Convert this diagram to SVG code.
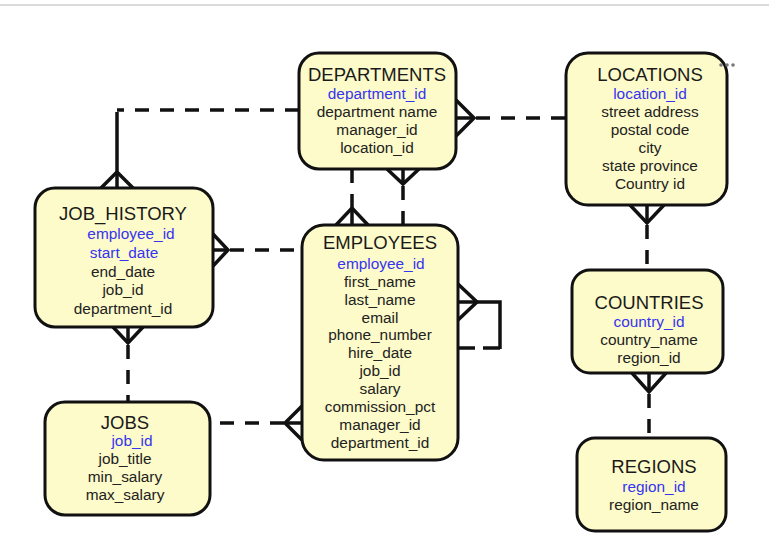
<svg xmlns="http://www.w3.org/2000/svg" width="769" height="554" viewBox="0 0 769 554">
<style>
  .box { fill: #fdfbc9; stroke: #111; stroke-width: 3; }
  .title { font-family: "Liberation Sans", Arial, sans-serif; font-size: 18.5px; fill: #1a1a1a; text-anchor: middle; }
  .attr { font-family: "Liberation Sans", Arial, sans-serif; font-size: 15.4px; fill: #222; text-anchor: middle; }
  .key { fill: #3434f2; }
  .solid { fill: none; stroke: #111; stroke-width: 3.5; }
  .dash { fill: none; stroke: #111; stroke-width: 3.5; stroke-dasharray: 14 11; }
</style>
<rect width="769" height="554" fill="#ffffff"/>
<line x1="0" y1="5" x2="769" y2="5" stroke="#cfcfcf" stroke-width="1.5"/>

<g id="connectors">
  <!-- DEPARTMENTS - JOB_HISTORY -->
  <path class="dash" d="M299,110 H117"/>
  <path class="solid" d="M117,112 V188"/>
  <path class="solid" d="M101,188 L117,172 L133,188"/>
  <!-- DEPARTMENTS - LOCATIONS -->
  <path class="solid" d="M456,118 H474"/>
  <path class="solid" d="M456,100 L474,118 L456,136"/>
  <path class="dash" d="M476,118 H566"/>
  <!-- DEPARTMENTS - EMPLOYEES (left) -->
  <path class="dash" d="M352,169 V208"/>
  <path class="solid" d="M352,208 V225"/>
  <path class="solid" d="M336,225 L352,208 L368,225"/>
  <!-- DEPARTMENTS - EMPLOYEES (right) -->
  <path class="solid" d="M403,169 V184"/>
  <path class="solid" d="M387,169 L403,184 L419,169"/>
  <path class="dash" d="M403,186 V225"/>
  <!-- JOB_HISTORY - EMPLOYEES -->
  <path class="solid" d="M213,250 H228"/>
  <path class="solid" d="M213,234 L228,250 L213,266"/>
  <path class="dash" d="M230,250 H302"/>
  <!-- JOB_HISTORY - JOBS -->
  <path class="solid" d="M128,327 V343"/>
  <path class="solid" d="M113,327 L128,343 L143,327"/>
  <path class="dash" d="M128,345 V402"/>
  <!-- JOBS - EMPLOYEES -->
  <path class="dash" d="M220,423 H285"/>
  <path class="solid" d="M285,423 H302"/>
  <path class="solid" d="M302,406 L285,423 L302,440"/>
  <!-- EMPLOYEES self (manager) -->
  <path class="solid" d="M458,302 H500 V349"/>
  <path class="solid" d="M458,284 L477,302 L458,320"/>
  <path class="dash" style="stroke-dasharray: 17 8" d="M500,348 H458"/>
  <!-- LOCATIONS - COUNTRIES -->
  <path class="solid" d="M647,205 V223"/>
  <path class="solid" d="M630,205 L647,223 L664,205"/>
  <path class="dash" d="M647,225 V270"/>
  <!-- COUNTRIES - REGIONS -->
  <path class="solid" d="M649,373 V392"/>
  <path class="solid" d="M632,373 L649,392 L666,373"/>
  <path class="dash" d="M649,394 V438"/>
</g>

<g id="departments">
  <rect class="box" x="299" y="53" width="157" height="116" rx="20"/>
  <text class="title" x="377" y="81">DEPARTMENTS</text>
  <text class="attr key" x="377" y="99">department_id</text>
  <text class="attr" x="377" y="117">department name</text>
  <text class="attr" x="377" y="135">manager_id</text>
  <text class="attr" x="377" y="153">location_id</text>
</g>

<g id="locations">
  <rect class="box" x="566" y="53" width="161" height="152" rx="22"/>
  <text class="title" x="650" y="81">LOCATIONS</text>
  <text class="attr key" x="650" y="99">location_id</text>
  <text class="attr" x="650" y="117">street address</text>
  <text class="attr" x="650" y="135">postal code</text>
  <text class="attr" x="650" y="153">city</text>
  <text class="attr" x="650" y="171">state province</text>
  <text class="attr" x="650" y="189">Country id</text>
  <circle cx="721" cy="65" r="1.8" fill="#777"/>
  <circle cx="727" cy="65" r="1.8" fill="#777"/>
  <circle cx="733" cy="65" r="1.8" fill="#777"/>
</g>

<g id="job_history">
  <rect class="box" x="35" y="188" width="178" height="139" rx="20"/>
  <text class="title" x="123" y="220">JOB_HISTORY</text>
  <text class="attr key" x="131" y="239">employee_id</text>
  <text class="attr key" x="124" y="258">start_date</text>
  <text class="attr" x="123" y="277">end_date</text>
  <text class="attr" x="123" y="295">job_id</text>
  <text class="attr" x="123" y="314">department_id</text>
</g>

<g id="employees">
  <rect class="box" x="302" y="225" width="156" height="235" rx="22"/>
  <text class="title" x="380" y="249">EMPLOYEES</text>
  <text class="attr key" x="381" y="269">employee_id</text>
  <text class="attr" x="380" y="287">first_name</text>
  <text class="attr" x="380" y="305">last_name</text>
  <text class="attr" x="380" y="323">email</text>
  <text class="attr" x="380" y="340">phone_number</text>
  <text class="attr" x="380" y="358">hire_date</text>
  <text class="attr" x="380" y="376">job_id</text>
  <text class="attr" x="380" y="394">salary</text>
  <text class="attr" x="380" y="412">commission_pct</text>
  <text class="attr" x="380" y="430">manager_id</text>
  <text class="attr" x="380" y="448">department_id</text>
</g>

<g id="jobs">
  <rect class="box" x="45" y="402" width="165" height="113" rx="20"/>
  <text class="title" x="125" y="429">JOBS</text>
  <text class="attr key" x="132" y="446">job_id</text>
  <text class="attr" x="125" y="464">job_title</text>
  <text class="attr" x="125" y="482">min_salary</text>
  <text class="attr" x="125" y="500">max_salary</text>
</g>

<g id="countries">
  <rect class="box" x="572" y="270" width="151" height="103" rx="18"/>
  <text class="title" x="649" y="309">COUNTRIES</text>
  <text class="attr key" x="649" y="327">country_id</text>
  <text class="attr" x="649" y="345">country_name</text>
  <text class="attr" x="649" y="363">region_id</text>
</g>

<g id="regions">
  <rect class="box" x="577" y="438" width="149" height="93" rx="18"/>
  <text class="title" x="654" y="473">REGIONS</text>
  <text class="attr key" x="654" y="492">region_id</text>
  <text class="attr" x="654" y="510">region_name</text>
</g>
</svg>
